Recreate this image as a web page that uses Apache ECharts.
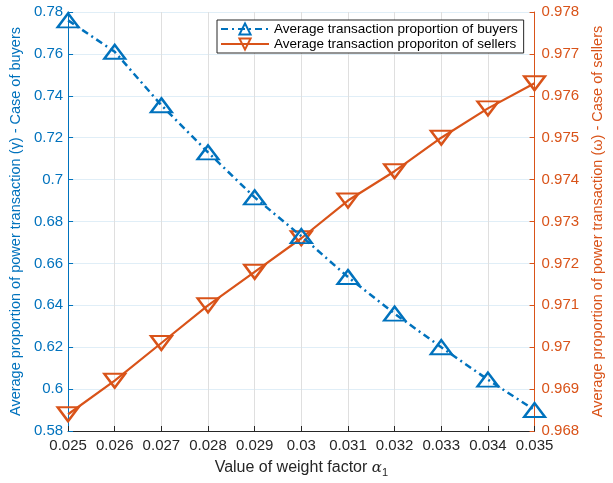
<!DOCTYPE html>
<html>
<head>
<meta charset="utf-8">
<script src="https://cdn.jsdelivr.net/npm/echarts@6/dist/echarts.min.js"></script>
<style>html,body{margin:0;padding:0;background:#fff;}#c{width:613px;height:483px;}</style>
</head>
<body>
<div id="c"></div>
<script>
const xLabels = ['0.025','0.026','0.027','0.028','0.029','0.03','0.031','0.032','0.033','0.034','0.035'];
const buyers = [0.776, 0.761, 0.7355, 0.713, 0.6915, 0.673, 0.6535, 0.636, 0.620, 0.6045, 0.590];
const sellers = [0.9684, 0.9692, 0.9701, 0.9710, 0.9718, 0.9726, 0.9735, 0.9742, 0.9750, 0.9757, 0.9763];
const buyerName = 'Average transaction proportion of buyers';
const sellerName = 'Average transaction proporiton of sellers';

const BLUE = '#0072BD', ORANGE = '#D95319', DARK = '#262626';
const FONT = 'Liberation Sans';

const chart = echarts.init(document.getElementById('c'), null, {renderer: 'canvas'});
chart.setOption({
  animation: false,
  backgroundColor: '#fff',
  textStyle: {fontFamily: FONT},
  grid: {left: 65, right: 69, top: 12, bottom: 49, containLabel: false},
  legend: {
    orient: 'vertical',
    left: 217, top: 20,
    backgroundColor: '#fff',
    borderColor: DARK, borderWidth: 1, borderRadius: 0,
    padding: [2, 6, 2, 3],
    itemGap: 1,
    itemWidth: 48, itemHeight: 14,
    textStyle: {fontFamily: FONT, fontSize: 13.5, color: '#000'},
    data: [buyerName, sellerName]
  },
  xAxis: {
    type: 'category',
    data: xLabels,
    boundaryGap: false,
    name: '{n|Value of weight factor }{a|α}{s|1}',
    nameLocation: 'middle',
    nameGap: 27,
    nameTextStyle: {
      rich: {
        n: {fontFamily: FONT, fontSize: 16, color: DARK},
        a: {fontFamily: 'DejaVu Serif', fontStyle: 'italic', fontSize: 15, color: DARK},
        s: {fontFamily: FONT, fontSize: 11, color: DARK, verticalAlign: 'bottom', padding: [9, 0, 0, 0]}
      }
    },
    axisLine: {lineStyle: {color: DARK, width: 1}},
    axisTick: {show: true, inside: true, length: 5, interval: 0, alignWithLabel: true, lineStyle: {color: DARK}},
    axisLabel: {color: DARK, fontSize: 15, margin: 7, interval: 0, hideOverlap: false, fontFamily: FONT},
    splitLine: {show: true, interval: 0, lineStyle: {color: '#dfdfdf', width: 1}}
  },
  yAxis: [
    {
      type: 'value', position: 'left',
      min: 0.58, max: 0.78, interval: 0.02,
      name: 'Average proportion of power transaction (γ) - Case of buyers',
      nameLocation: 'middle', nameGap: 40, nameRotate: 90,
      nameTextStyle: {color: BLUE, fontSize: 14.5, fontFamily: FONT},
      axisLine: {show: true, lineStyle: {color: BLUE, width: 1}},
      axisTick: {show: true, inside: true, length: 5, lineStyle: {color: BLUE}},
      axisLabel: {color: BLUE, fontSize: 15, margin: 5, fontFamily: FONT,
        formatter: v => String(+v.toFixed(2))},
      splitLine: {show: true, lineStyle: {color: 'rgba(0,114,189,0.12)', width: 1}}
    },
    {
      type: 'value', position: 'right',
      min: 0.968, max: 0.978, interval: 0.001,
      name: 'Average proportion of power transaction (ω) - Case of sellers',
      nameLocation: 'middle', nameGap: 53, nameRotate: 90,
      nameTextStyle: {color: ORANGE, fontSize: 14.5, fontFamily: FONT},
      axisLine: {show: true, lineStyle: {color: ORANGE, width: 1}},
      axisTick: {show: true, inside: true, length: 5, lineStyle: {color: ORANGE}},
      axisLabel: {color: ORANGE, fontSize: 15, margin: 7, fontFamily: FONT,
        formatter: v => String(+v.toFixed(3))},
      splitLine: {show: false}
    }
  ],
  series: [
    {
      name: buyerName, type: 'line', yAxisIndex: 0, data: buyers,
      symbol: 'triangle', symbolSize: [21, 14],
      lineStyle: {color: BLUE, width: 2.5, type: [7, 4, 2, 4]},
      itemStyle: {color: 'rgba(255,255,255,0)', borderColor: BLUE, borderWidth: 2.3},
      clip: false, z: 3
    },
    {
      name: sellerName, type: 'line', yAxisIndex: 1, data: sellers,
      symbol: 'triangle', symbolRotate: 180, symbolSize: [21, 14],
      lineStyle: {color: ORANGE, width: 2.2, type: 'solid'},
      itemStyle: {color: 'rgba(255,255,255,0)', borderColor: ORANGE, borderWidth: 2.3},
      clip: false, z: 2
    }
  ]
});
</script>
</body>
</html>
